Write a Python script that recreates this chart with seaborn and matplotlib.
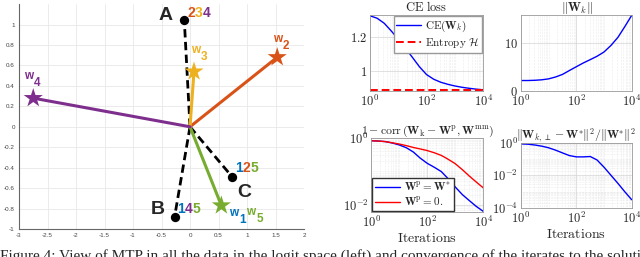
"""MTP geometry view plus convergence curves (CE loss, norm, correlation, residual)."""

import matplotlib
matplotlib.use("Agg")
import matplotlib.pyplot as plt
import pandas as pd
import seaborn as sns
from matplotlib.ticker import FixedLocator, NullFormatter

# ---- left panel data ------------------------------------------------------
star_names = ["w15", "w2", "w3", "w4"]
star_x = [0.55, 1.53, 0.07, -2.75]
star_y = [-0.77, 0.68, 0.54, 0.28]

point_names = ["A", "B", "C"]
point_x = [-0.10, -0.27, 0.74]
point_y = [1.04, -0.88, -0.49]

# ---- right panels data ----------------------------------------------------
iterations = [1, 1.8, 3.2, 5.6, 10, 18, 32, 56, 100, 180, 320, 560,
              1000, 1800, 3200, 5600, 10000]
ce_loss = [1.330, 1.315, 1.285, 1.240, 1.190, 1.135, 1.080, 1.025, 0.978,
           0.950, 0.932, 0.920, 0.910, 0.902, 0.896, 0.891, 0.887]
entropy_level = 0.885
w_norm = [2.2, 2.2, 2.25, 2.35, 2.55, 2.95, 3.5, 4.3, 5.1, 5.9, 6.6, 7.3,
          8.2, 9.6, 11.3, 13.5, 15.9]
corr_wstar = [0.83, 0.81, 0.78, 0.71, 0.62, 0.51, 0.38, 0.25, 0.174, 0.132,
              0.098, 0.060, 0.034, 0.020, 0.0132, 0.0089, 0.0063]
corr_zero = [0.83, 0.81, 0.78, 0.72, 0.66, 0.59, 0.52, 0.47, 0.42, 0.36,
             0.30, 0.23, 0.17, 0.112, 0.072, 0.048, 0.032]
resid = [0.87, 0.83, 0.74, 0.63, 0.50, 0.355, 0.24, 0.166, 0.138, 0.138,
         0.145, 0.089, 0.032, 0.010, 0.0032, 0.0010, 0.00032]

caption = ("Figure 4: View of MTP in all the data in the logit space (left) and "
           "convergence of the iterates to the solution (right).")

# MATLAB default colours
BLUE, ORANGE, YELLOW, PURPLE, GREEN = "#0072BD", "#D95319", "#EDB120", "#7E2F8E", "#77AC30"
star_colors = [GREEN, ORANGE, YELLOW, PURPLE]

sns.set_style("white")
plt.rcParams["font.family"] = ["Liberation Sans", "DejaVu Sans"]
plt.rcParams["mathtext.fontset"] = "cm"

fig = plt.figure(figsize=(6.4, 2.57), dpi=100)

# ---------------------------------------------------------------------------
# Left panel
# ---------------------------------------------------------------------------
ax = fig.add_axes([0.0297, 0.109, 0.4453, 0.875])

for name, px, py in zip(point_names, point_x, point_y):
    seg = pd.DataFrame({"x": [0, px], "y": [0, py]})
    sns.lineplot(data=seg, x="x", y="y", color="black", lw=2.0, sort=False,
                 estimator=None, linestyle=(0, (3, 1.6)), ax=ax, zorder=3)
for name, sx, sy, c in zip(star_names, star_x, star_y, star_colors):
    seg = pd.DataFrame({"x": [0, sx], "y": [0, sy]})
    sns.lineplot(data=seg, x="x", y="y", color=c, lw=2.2, sort=False,
                 estimator=None, ax=ax, zorder=4)

sns.scatterplot(x=point_x, y=point_y, color="black", s=45, linewidth=0, ax=ax, zorder=5)
sns.scatterplot(x=star_x, y=star_y, hue=star_names, palette=star_colors, marker="*",
                s=210, linewidth=0, legend=False, ax=ax, zorder=6)


def colored_digits(x, y, text, colors, step=0.135, size=10):
    for i, (ch, c) in enumerate(zip(text, colors)):
        ax.text(x + i * step, y, ch, color=c, fontsize=size, fontweight="bold",
                ha="left", va="center", zorder=7)


def w_label(x, y, sub, color):
    ax.text(x, y, "w", color=color, fontsize=8.5, fontweight="bold",
            ha="center", va="center", zorder=7)
    ax.text(x + 0.16, y - 0.07, sub, color=color, fontsize=8.5, fontweight="bold",
            ha="center", va="center", zorder=7)


for name, lx, ly in [("A", -0.42, 1.09), ("B", -0.56, -0.81), ("C", 0.96, -0.64)]:
    ax.text(lx, ly, name, fontsize=14, fontweight="bold", ha="center", va="center", zorder=7)

colored_digits(-0.05, 1.11, "234", [ORANGE, YELLOW, PURPLE])
colored_digits(-0.22, -0.80, "145", [BLUE, PURPLE, GREEN])
colored_digits(0.79, -0.40, "125", [BLUE, ORANGE, GREEN])

w_label(1.53, 0.86, "2", ORANGE)
w_label(0.09, 0.75, "3", YELLOW)
w_label(-2.84, 0.50, "4", PURPLE)
w_label(0.76, -0.84, "1", BLUE)
w_label(1.07, -0.83, "5", GREEN)

ax.set_xlim(-3, 2)
ax.set_ylim(-1, 1.2)
ax.set_xticks([-3, -2.5, -2, -1.5, -1, -0.5, 0, 0.5, 1, 1.5, 2])
ax.set_xticklabels(["-3", "-2.5", "-2", "-1.5", "-1", "-0.5", "0", "0.5", "1", "1.5", "2"])
ax.set_yticks([-1, -0.8, -0.6, -0.4, -0.2, 0, 0.2, 0.4, 0.6, 0.8, 1])
ax.set_yticklabels(["-1", "-0.8", "-0.6", "-0.4", "-0.2", "0", "0.2", "0.4", "0.6", "0.8", "1"])
ax.tick_params(labelsize=4.5, labelcolor="#444444", direction="in", length=2,
               width=0.5, color="#666666", pad=3)
ax.grid(True, color="#e8e8e8", lw=0.6)
ax.spines["top"].set_visible(False)
ax.spines["right"].set_visible(False)
for s in ("left", "bottom"):
    ax.spines[s].set_color("#666666")
    ax.spines[s].set_linewidth(0.8)
ax.set_xlabel("")
ax.set_ylabel("")

# ---------------------------------------------------------------------------
# Right panels
# ---------------------------------------------------------------------------
ax_ce = fig.add_axes([0.578, 0.646, 0.177, 0.296])
ax_nm = fig.add_axes([0.814, 0.646, 0.173, 0.296])
ax_cr = fig.add_axes([0.580, 0.175, 0.175, 0.288])
ax_rs = fig.add_axes([0.814, 0.191, 0.173, 0.253])

minor_x = [m * 10 ** e for e in range(4) for m in range(2, 10)] + [10, 1000]


def style_log(a, ylog=False):
    a.set_xscale("log")
    a.set_xlim(1, 1e4)
    a.xaxis.set_major_locator(FixedLocator([1, 1e2, 1e4]))
    a.set_xticklabels([r"$10^0$", r"$10^2$", r"$10^4$"])
    a.xaxis.set_minor_locator(FixedLocator(minor_x))
    a.xaxis.set_minor_formatter(NullFormatter())
    if ylog:
        a.set_yscale("log")
    a.grid(True, which="major", color="#d4d4d4", lw=0.5)
    a.grid(True, which="minor", color="#dcdcdc", lw=0.4, ls=":")
    a.tick_params(which="both", direction="in", length=2, width=0.4,
                  color="#555555", labelsize=9, pad=2)
    a.tick_params(which="minor", length=1)
    for s in a.spines.values():
        s.set_color("#999999")
        s.set_linewidth(0.6)
    a.set_xlabel("")
    a.set_ylabel("")


# CE loss
df_ce = pd.DataFrame({"it": iterations, "ce": ce_loss})
sns.lineplot(data=df_ce, x="it", y="ce", color="#0000FF", lw=1.0, ax=ax_ce,
             label=r"$\mathrm{CE}(\mathbf{W}_k)$")
df_ent = pd.DataFrame({"it": [1, 1e4], "h": [entropy_level, entropy_level]})
sns.lineplot(data=df_ent, x="it", y="h", color="#FF0000", lw=1.4,
             linestyle=(0, (4, 2)), ax=ax_ce, label=r"$\mathrm{Entropy}\ \mathcal{H}$")
style_log(ax_ce)
ax_ce.set_ylim(0.88, 1.335)
ax_ce.set_yticks([1, 1.2])
ax_ce.set_yticklabels([r"$1$", r"$1.2$"])
ax_ce.set_title(r"$\mathrm{CE\ loss}$", fontsize=9, pad=3)
ax_ce.legend(loc="upper right", fontsize=8, handlelength=2.2, borderpad=0.25,
             labelspacing=0.2, handletextpad=0.4, borderaxespad=0.1,
             frameon=True, fancybox=False, edgecolor="#999999", framealpha=1)

# norm of W_k
df_nm = pd.DataFrame({"it": iterations, "nm": w_norm})
sns.lineplot(data=df_nm, x="it", y="nm", color="#0000FF", lw=1.0, ax=ax_nm)
style_log(ax_nm)
ax_nm.set_ylim(0, 16)
ax_nm.set_yticks([0, 10])
ax_nm.set_yticklabels([r"$0$", r"$10$"])
ax_nm.set_title(r"$\|\mathbf{W}_k\|$", fontsize=9, pad=3)

# 1 - corr
df_cr = pd.DataFrame({"it": iterations * 2, "v": corr_wstar + corr_zero,
                      "case": ["star"] * len(iterations) + ["zero"] * len(iterations)})
sns.lineplot(data=df_cr, x="it", y="v", hue="case", palette=["#0000FF", "#FF0000"],
             lw=1.0, ax=ax_cr)
style_log(ax_cr, ylog=True)
ax_cr.set_ylim(6e-3, 1)
ax_cr.yaxis.set_major_locator(FixedLocator([1e-2, 1]))
ax_cr.set_yticklabels([r"$10^{-2}$", r"$10^0$"])
ax_cr.yaxis.set_minor_locator(FixedLocator([m * 10 ** e for e in (-3, -2, -1) for m in range(2, 10)] + [0.1]))
ax_cr.yaxis.set_minor_formatter(NullFormatter())
ax_cr.set_title(r"$1-\mathrm{corr}\,(\mathbf{W}_\mathrm{k}-\mathbf{W}^\mathrm{p},\mathbf{W}^\mathrm{mm})$",
                fontsize=8.5, pad=3)
ax_cr.set_xlabel(r"$\mathrm{Iterations}$", fontsize=10, labelpad=1)
handles, _ = ax_cr.get_legend_handles_labels()
ax_cr.legend(handles, [r"$\mathbf{W}^\mathrm{p}=\mathbf{W}^{*}$", r"$\mathbf{W}^\mathrm{p}=0.$"],
             loc="lower left", fontsize=8, handlelength=2.2, borderpad=0.25,
             labelspacing=0.2, handletextpad=0.4, borderaxespad=0.1,
             frameon=True, fancybox=False, edgecolor="#333333", framealpha=1)

# residual
df_rs = pd.DataFrame({"it": iterations, "r": resid})
sns.lineplot(data=df_rs, x="it", y="r", color="#0000FF", lw=1.0, ax=ax_rs)
style_log(ax_rs, ylog=True)
ax_rs.set_ylim(1e-4, 1)
ax_rs.yaxis.set_major_locator(FixedLocator([1e-4, 1e-2, 1]))
ax_rs.set_yticklabels([r"$10^{-4}$", r"$10^{-2}$", r"$10^0$"])
ax_rs.yaxis.set_minor_locator(FixedLocator([m * 10 ** e for e in (-4, -3, -2, -1) for m in range(2, 10)]
                                           + [1e-3, 1e-1]))
ax_rs.yaxis.set_minor_formatter(NullFormatter())
ax_rs.set_title(r"$\|\mathbf{W}_{k,\perp}-\mathbf{W}^{*}\|^2/\|\mathbf{W}^{*}\|^2$",
                fontsize=8.5, pad=3)
ax_rs.set_xlabel(r"$\mathrm{Iterations}$", fontsize=10, labelpad=1)

# caption of the source figure, cut by the bottom edge as in the reference
fig.text(0.0, -3 / 257, caption, fontsize=11, family="Liberation Serif",
         va="baseline", ha="left")

fig.savefig("out.png", dpi=100)
plt.close(fig)
